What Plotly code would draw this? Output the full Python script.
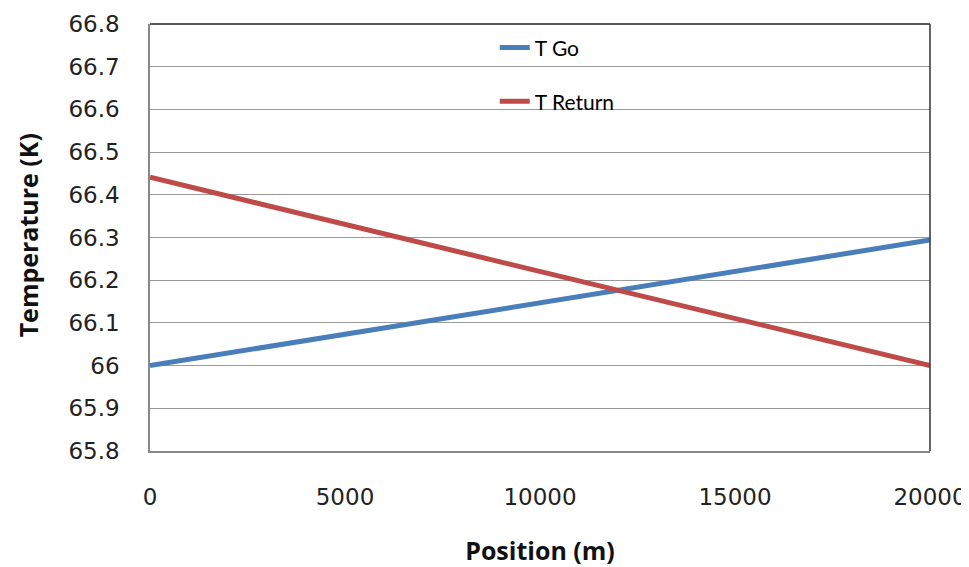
import plotly.graph_objects as go

position = [0, 2500, 5000, 7500, 10000, 12500, 15000, 17500, 20000]
t_go = [66.000, 66.037, 66.073, 66.110, 66.147, 66.184, 66.220, 66.257, 66.294]
t_return = [66.441, 66.386, 66.331, 66.276, 66.221, 66.166, 66.111, 66.055, 66.000]
y_ticks = [65.8, 65.9, 66.0, 66.1, 66.2, 66.3, 66.4, 66.5, 66.6, 66.7, 66.8]
y_tick_text = ["65.8", "65.9", "66", "66.1", "66.2", "66.3", "66.4", "66.5", "66.6", "66.7", "66.8"]
x_ticks = [0, 5000, 10000, 15000, 20000]
x_tick_text = ["0", "5000", "10000", "15000", "20000"]

fig = go.Figure()
fig.add_trace(go.Scatter(x=position, y=t_go, mode="lines", name="T Go", showlegend=True,
                         line=dict(color="#4A7EBB", width=5), legend="legend"))
fig.add_trace(go.Scatter(x=position, y=t_return, mode="lines", name="T Return", showlegend=True,
                         line=dict(color="#BE4B48", width=5), legend="legend2"))

legend_common = dict(xanchor="left", yanchor="middle", bgcolor="rgba(0,0,0,0)",
                     font=dict(family="Lato", size=21, color="#000000"))
fig.update_layout(
    width=961, height=559,
    showlegend=True,
    margin=dict(l=142, r=39, t=16, b=116, autoexpand=False),
    paper_bgcolor="white", plot_bgcolor="white",
    legend=dict(x=0.442, y=0.944, **legend_common),
    legend2=dict(x=0.442, y=0.818, **legend_common),
    xaxis=dict(range=[0, 20000], tickvals=x_ticks, ticktext=x_tick_text,
               showgrid=False, zeroline=False, automargin=False,
               showline=True, linecolor="#888888", linewidth=1.5, mirror=False,
               ticks="", ticklabelstandoff=25,
               tickfont=dict(family="DejaVu Sans", size=23, color="#222222"),
               title=dict(text="<b>Position (m)</b>", standoff=33,
                          font=dict(family="Open Sans", size=25, color="#111111"))),
    yaxis=dict(range=[65.8, 66.8], tickvals=y_ticks, ticktext=y_tick_text,
               showgrid=True, gridcolor="#9a9a9a", gridwidth=1.3, zeroline=False,
               automargin=False,
               showline=True, linecolor="#888888", linewidth=1.5,
               ticks="", ticklabelstandoff=24,
               tickfont=dict(family="DejaVu Sans", size=23, color="#222222")),
    annotations=[dict(text="<b>Temperature (K)</b>", textangle=-90, showarrow=False,
                      xref="paper", yref="paper", x=-0.1564, y=0.505,
                      xanchor="center", yanchor="middle",
                      font=dict(family="Open Sans", size=25, color="#111111"))],
)
# darker top and right frame of plot area
fig.add_shape(type="line", xref="paper", yref="paper", x0=0, x1=1, y0=1, y1=1,
              line=dict(color="#222222", width=1.5))
fig.add_shape(type="line", xref="paper", yref="paper", x0=1, x1=1, y0=0, y1=1,
              line=dict(color="#333333", width=1.5))

fig.write_html("out.html")
